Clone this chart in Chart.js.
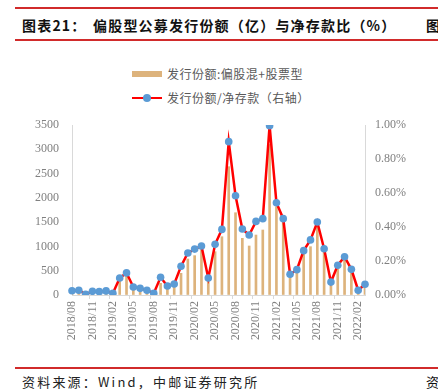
<!DOCTYPE html>
<html>
<head>
<meta charset="utf-8">
<script src="https://cdn.jsdelivr.net/npm/chart.js@4"></script>
<style>
  body { margin: 0; width: 438px; height: 391px; background: #fff; position: relative; overflow: hidden;
         font-family: "Noto Sans CJK SC", sans-serif; }
  .rule { position: absolute; left: 15px; right: 0; height: 2px; background: #d12b2b; }
  .title { position: absolute; top: 15px; left: 22px; font-size: 14px; font-weight: bold; color: #111; letter-spacing: 1.2px; white-space: nowrap; }
  .title .t2 { position: absolute; left: 71px; }
  .cut { position: absolute; left: 426px; font-size: 14px; font-weight: bold; color: #111; }
  .foot { position: absolute; top: 372px; left: 22px; font-size: 13px; color: #222; letter-spacing: 2.2px; white-space: nowrap; }
  .leg { position: absolute; font-size: 12px; color: #595959; letter-spacing: 0.5px; white-space: nowrap; line-height: 14px; }
  #chart { position: absolute; left: 0; top: 45px; }
</style>
</head>
<body>
<div class="rule" style="top:7px"></div>
<div class="title">图表21：<span class="t2">偏股型公募发行份额（亿）与净存款比（%）</span></div>
<div class="cut" style="top:15px">图</div>
<div class="rule" style="top:39px; height:1.5px"></div>

<!-- legend -->
<div style="position:absolute; left:132px; top:71px; width:30px; height:6px; background:#DDB37C"></div>
<div class="leg" style="left:167px; top:67px">发行份额:偏股混+股票型</div>
<div style="position:absolute; left:132px; top:96.5px; width:30px; height:2.5px; background:#ff0000"></div>
<div style="position:absolute; left:143px; top:94px; width:8px; height:8px; border-radius:50%; background:#5B9BD5"></div>
<div class="leg" style="left:167px; top:91px">发行份额/净存款（右轴）</div>

<canvas id="chart" width="438" height="315"></canvas>

<div class="rule" style="top:367px; height:1.5px"></div>
<div class="foot">资料来源：Wind，中邮证券研究所</div>
<div class="cut" style="top:372px; font-weight:normal; font-size:13px">资</div>

<script>
// months 2018/08 .. 2022/03
const months = [
  '2018/08','2018/09','2018/10','2018/11','2018/12','2019/01','2019/02','2019/03','2019/04','2019/05','2019/06','2019/07',
  '2019/08','2019/09','2019/10','2019/11','2019/12','2020/01','2020/02','2020/03','2020/04','2020/05','2020/06','2020/07',
  '2020/08','2020/09','2020/10','2020/11','2020/12','2021/01','2021/02','2021/03','2021/04','2021/05','2021/06','2021/07',
  '2021/08','2021/09','2021/10','2021/11','2021/12','2022/01','2022/02','2022/03'
];
// 发行份额（亿）
const issueShares = [
  70, 80, 10, 60, 50, 60, 30, 309, 412, 137, 103, 69,
  14, 240, 137, 200, 447, 741, 810, 960, 309, 892, 1200, 2642,
  1694, 1167, 1009, 1235, 1338, 3100, 1818, 1544, 420, 529, 892, 995,
  1407, 926, 309, 583, 720, 480, 100, 206
];
// 发行份额/净存款（%）
const issueRatio = [
  0.025, 0.028, 0.004, 0.022, 0.020, 0.024, 0.010, 0.100, 0.130, 0.047, 0.039, 0.028,
  0.010, 0.104, 0.053, 0.065, 0.169, 0.247, 0.270, 0.288, 0.100, 0.298, 0.386, 0.902,
  0.584, 0.388, 0.353, 0.433, 0.449, 0.996, 0.543, 0.449, 0.122, 0.149, 0.261, 0.324,
  0.429, 0.272, 0.076, 0.175, 0.225, 0.151, 0.028, 0.063
];

const tickFont = { family: 'Liberation Serif', size: 12 };
const tickColor = '#808080';
const axisColor = '#d9d9d9';

new Chart(document.getElementById('chart').getContext('2d'), {
  type: 'bar',
  data: {
    labels: months,
    datasets: [
      { type: 'line', label: '发行份额/净存款（右轴）', data: issueRatio, yAxisID: 'y1', order: 0,
        borderColor: '#ff0000', borderWidth: 2.5, tension: 0,
        pointRadius: 3.8, pointBackgroundColor: '#5B9BD5', pointBorderColor: '#5B9BD5', pointBorderWidth: 0 },
      { type: 'bar', label: '发行份额:偏股混+股票型', data: issueShares, yAxisID: 'y', order: 1,
        backgroundColor: '#DDB37C', barThickness: 2 }
    ]
  },
  options: {
    responsive: false,
    animation: false,
    devicePixelRatio: 1,
    layout: { padding: { top: 80, left: 0, right: 0, bottom: 0 } },
    plugins: { legend: { display: false }, tooltip: { enabled: false } },
    scales: {
      x: {
        offset: false,
        grid: { drawOnChartArea: false, tickLength: 4,
                color: ctx => (ctx.index % 3 === 0 ? axisColor : 'rgba(0,0,0,0)') },
        border: { color: axisColor },
        ticks: { autoSkip: false, maxRotation: 90, minRotation: 90, padding: 2, font: tickFont, color: tickColor,
                 callback: (v, i) => (i % 3 === 0 ? months[i] : '') },
        afterFit: s => { s.height = 65; }
      },
      y: {
        position: 'left', min: 0, max: 3500,
        grid: { drawOnChartArea: false, drawTicks: false },
        border: { color: axisColor },
        ticks: { stepSize: 500, padding: 13, font: tickFont, color: tickColor, callback: v => String(v) },
        afterFit: s => { s.width = 72; }
      },
      y1: {
        position: 'right', min: 0, max: 1,
        grid: { drawOnChartArea: false, drawTicks: false },
        border: { color: axisColor },
        ticks: { stepSize: 0.2, padding: 10, font: tickFont, color: tickColor,
                 callback: v => v.toFixed(2) + '%' },
        afterFit: s => { s.width = 73; }
      }
    }
  }
});
</script>
</body>
</html>
